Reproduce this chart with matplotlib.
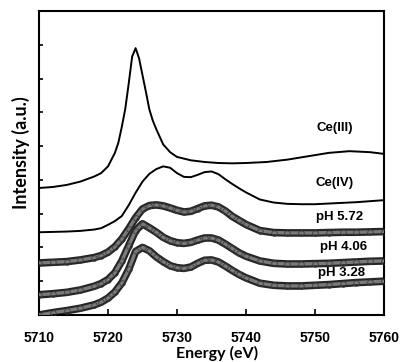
import numpy as np
import matplotlib
matplotlib.use('Agg')
import matplotlib.pyplot as plt

# energy grids (eV)
e_ce3 = [5710, 5712, 5714, 5716, 5718, 5719, 5720, 5721, 5721.5, 5722, 5722.5, 5723,
         5723.5, 5724, 5724.5, 5725, 5725.5, 5726, 5726.5, 5727, 5728, 5729, 5730, 5732,
         5734, 5736, 5738, 5740, 5743, 5746, 5749, 5752, 5755, 5758, 5760]
energy = [5710, 5712, 5714, 5716, 5718, 5719, 5720, 5721, 5722, 5723, 5724, 5725, 5726,
          5727, 5728, 5729, 5730, 5731, 5732, 5733, 5734, 5735, 5736, 5737, 5738, 5739,
          5740, 5742, 5744, 5746, 5748, 5750, 5752, 5754, 5756, 5758, 5760]

# stacked spectra (offset intensities)
ce3 = [3.76, 3.79, 3.85, 3.95, 4.1, 4.2, 4.4, 4.8, 5.1, 5.57, 6.1, 6.85,
       7.65, 7.9, 7.6, 7.1, 6.6, 6.08, 5.75, 5.5, 5.05, 4.82, 4.68, 4.58,
       4.53, 4.5, 4.49, 4.5, 4.53, 4.6, 4.7, 4.8, 4.85, 4.82, 4.77]
ce4 = [2.45, 2.46, 2.47, 2.49, 2.53, 2.57, 2.67, 2.78, 2.93, 3.25, 3.62, 3.95, 4.18,
       4.32, 4.4, 4.36, 4.2, 4.09, 4.08, 4.15, 4.23, 4.25, 4.17, 4.02, 3.88, 3.75,
       3.63, 3.42, 3.33, 3.29, 3.28, 3.28, 3.3, 3.32, 3.34, 3.37, 3.4]
ph572 = [1.54, 1.56, 1.58, 1.63, 1.7, 1.76, 1.86, 2.02, 2.25, 2.55, 2.88, 3.14, 3.24,
         3.26, 3.23, 3.17, 3.1, 3.05, 3.07, 3.15, 3.23, 3.25, 3.2, 3.08, 2.92, 2.8,
         2.68, 2.5, 2.44, 2.43, 2.43, 2.43, 2.44, 2.45, 2.45, 2.46, 2.47]
ph406 = [0.6, 0.63, 0.67, 0.74, 0.85, 0.93, 1.05, 1.25, 1.6, 2.05, 2.5, 2.7, 2.58,
         2.45, 2.3, 2.2, 2.14, 2.12, 2.15, 2.22, 2.28, 2.28, 2.22, 2.1, 1.97, 1.84,
         1.74, 1.6, 1.53, 1.51, 1.51, 1.52, 1.53, 1.55, 1.57, 1.59, 1.6]
ph328 = [0.0, 0.07, 0.13, 0.2, 0.3, 0.38, 0.5, 0.68, 0.95, 1.35, 1.88, 2.0, 1.9,
         1.72, 1.58, 1.46, 1.4, 1.38, 1.42, 1.53, 1.62, 1.63, 1.57, 1.45, 1.32, 1.2,
         1.1, 0.94, 0.88, 0.86, 0.86, 0.88, 0.9, 0.93, 0.96, 0.98, 1.0]

labels = ['Ce(III)', 'Ce(IV)', 'pH 5.72', 'pH 4.06', 'pH 3.28']
label_pos = [(5752.8, 5.55), (5752.8, 3.9), (5753.5, 2.9), (5754.2, 2.02), (5753.9, 1.25)]

fig = plt.figure(figsize=(4.01, 3.62), dpi=100)
ax = fig.add_axes([39/401, 47/362, 345/401, 304/362])

ax.plot(e_ce3, ce3, color='black', lw=1.4)
ax.plot(energy, ce4, color='black', lw=1.4)
for y in [ph572, ph406, ph328]:
    # measured points drawn as a dense band of open circles
    ax.plot(energy, y, color='#252525', lw=5.5, solid_capstyle='butt', zorder=2)
    ax.plot(energy, y, color='#7a7a7a', lw=2.4, solid_capstyle='butt', zorder=3)
    ax.plot(energy, y, ls='none', marker='o', ms=4, mfc='none', mec='#3a3a3a',
            mew=0.6, zorder=4)

for txt, (x, y) in zip(labels, label_pos):
    ax.text(x, y, txt, ha='center', va='center', fontsize=9.5, fontweight='bold',
            family='Liberation Sans')

ax.set_xlim(5710, 5760)
ax.set_ylim(0, 9)
ax.set_xticks(np.arange(5710, 5761, 10))
ax.set_yticks(np.arange(0, 10, 1))
ax.set_yticklabels([])
ax.tick_params(axis='x', direction='in', length=4, width=1.2, pad=11.5, labelsize=10)
ax.tick_params(axis='y', direction='in', length=3, width=1.2)
for lab in ax.get_xticklabels():
    lab.set_fontweight('bold')
    lab.set_family('Liberation Sans')
for sp in ax.spines.values():
    sp.set_linewidth(1.5)

ax.set_xlabel('Energy (eV)', fontsize=11.5, fontweight='bold', family='Lato')
ax.xaxis.label.set_va('bottom')
ax.xaxis.set_label_coords(0.516, -0.15)
ax.set_ylabel('Intensity (a.u.)', fontsize=13, fontweight='bold', family='Lato')
ax.yaxis.label.set_va('center')
ax.yaxis.set_label_coords(-0.052, 0.533)

fig.savefig('out.png', dpi=100)
